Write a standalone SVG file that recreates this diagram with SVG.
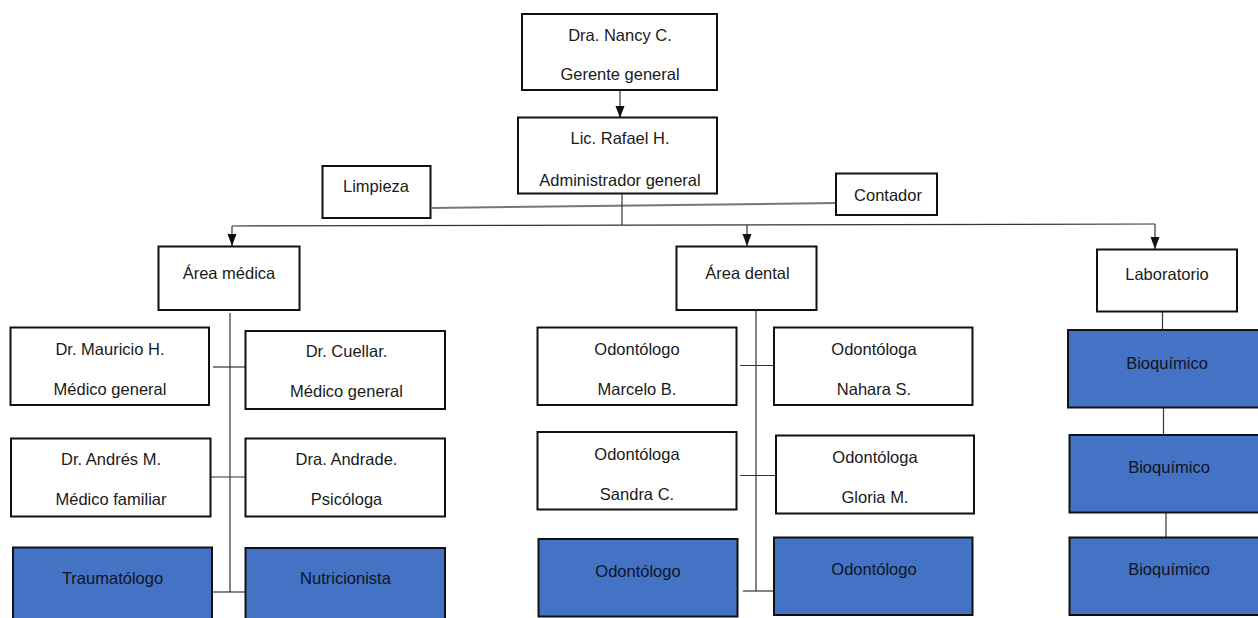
<svg xmlns="http://www.w3.org/2000/svg" width="1258" height="618" viewBox="0 0 1258 618">
<style>
.b{fill:#fff;stroke:#111;stroke-width:2}
.f{fill:#4472C4;stroke:#111;stroke-width:2}
text{font-family:"Liberation Sans",Arial,sans-serif;font-size:16.5px;fill:#1a1a1a;text-anchor:middle}
.k text{fill:#0f1522}
.c{stroke:#333;stroke-width:1.2;fill:none}
.g{stroke:#777;stroke-width:2;fill:none}
</style>
<defs>
<marker id="ad" markerWidth="10" markerHeight="12" refX="5" refY="12" markerUnits="userSpaceOnUse" viewBox="0 0 10 12">
<path d="M0.5,0 L9.5,0 L5,12 Z" fill="#111"/>
</marker>
</defs>
<rect width="1258" height="618" fill="#fff"/>
<g id="connectors">
<line class="c" x1="620" y1="91" x2="620" y2="118" marker-end="url(#ad)"/>
<line class="g" x1="432" y1="208" x2="836" y2="203"/>
<line class="c" x1="622" y1="194" x2="622" y2="225"/>
<line class="c" x1="232" y1="226" x2="1155" y2="224"/>
<line class="c" x1="232" y1="226" x2="232" y2="246" marker-end="url(#ad)"/>
<line class="c" x1="1155" y1="224" x2="1155" y2="249" marker-end="url(#ad)"/>
<line class="c" x1="747" y1="225" x2="747" y2="246" marker-end="url(#ad)"/>
<line class="c" x1="230" y1="313" x2="230" y2="592"/>
<line class="c" x1="213" y1="367" x2="245" y2="367"/>
<line class="c" x1="211" y1="477" x2="245" y2="477"/>
<line class="c" x1="213" y1="592" x2="245" y2="592"/>
<line class="c" x1="756" y1="310" x2="756" y2="591"/>
<line class="c" x1="740" y1="365.5" x2="774" y2="365.5"/>
<line class="c" x1="740" y1="475.5" x2="776" y2="475.5"/>
<line class="c" x1="743" y1="591" x2="774" y2="591"/>
<line class="c" x1="1162.5" y1="312" x2="1162.5" y2="330"/>
<line class="c" x1="1163.5" y1="407" x2="1163.5" y2="435"/>
<line class="c" x1="1166" y1="513" x2="1166" y2="540"/>
</g>
<g id="n-gerente"><rect class="b" x="522" y="14" width="195" height="76"/><text x="620" y="41">Dra. Nancy C.</text><text x="620" y="80">Gerente general</text></g>
<g id="n-admin"><rect class="b" x="518" y="117.5" width="199" height="76"/><text x="620" y="144">Lic. Rafael H.</text><text x="620" y="186">Administrador general</text></g>
<g id="n-limpieza"><rect class="b" x="322.5" y="166" width="108" height="52"/><text x="376" y="192">Limpieza</text></g>
<g id="n-contador"><rect class="b" x="836" y="173.5" width="101" height="41.5"/><text x="888" y="201">Contador</text></g>
<g id="n-medica"><rect class="b" x="158.5" y="246.5" width="141" height="63.5"/><text x="229" y="278.5">Área médica</text></g>
<g id="n-mauricio"><rect class="b" x="10.5" y="327.5" width="198.5" height="77.5"/><text x="110" y="355">Dr. Mauricio H.</text><text x="110" y="395">Médico general</text></g>
<g id="n-cuellar"><rect class="b" x="245.5" y="331" width="199.5" height="78"/><text x="346.5" y="357">Dr. Cuellar.</text><text x="346.5" y="397">Médico general</text></g>
<g id="n-andres"><rect class="b" x="11" y="438.5" width="199.5" height="78"/><text x="111" y="465">Dr. Andrés M.</text><text x="111" y="505">Médico familiar</text></g>
<g id="n-andrade"><rect class="b" x="245.5" y="438.5" width="199.5" height="78"/><text x="346.5" y="465">Dra. Andrade.</text><text x="346.5" y="505">Psicóloga</text></g>
<g id="n-trauma" class="k"><rect class="f" x="13" y="547.5" width="199" height="80"/><text x="112.5" y="584">Traumatólogo</text></g>
<g id="n-nutri" class="k"><rect class="f" x="245.5" y="548" width="199.5" height="80"/><text x="345.5" y="584">Nutricionista</text></g>
<g id="n-dental"><rect class="b" x="676.5" y="246.5" width="140" height="63.5"/><text x="747.5" y="278.5">Área dental</text></g>
<g id="n-marcelo"><rect class="b" x="537.5" y="327.5" width="199" height="77.5"/><text x="637" y="355">Odontólogo</text><text x="637" y="395">Marcelo B.</text></g>
<g id="n-nahara"><rect class="b" x="774" y="327.5" width="198.5" height="77.5"/><text x="874" y="355">Odontóloga</text><text x="874" y="395">Nahara S.</text></g>
<g id="n-sandra"><rect class="b" x="537.5" y="432" width="199" height="77.5"/><text x="637" y="459.5">Odontóloga</text><text x="637" y="499.5">Sandra C.</text></g>
<g id="n-gloria"><rect class="b" x="776" y="435.5" width="198" height="78"/><text x="875" y="463">Odontóloga</text><text x="875" y="503">Gloria M.</text></g>
<g id="n-odon1" class="k"><rect class="f" x="538.5" y="539" width="199" height="77.5"/><text x="638" y="577">Odontólogo</text></g>
<g id="n-odon2" class="k"><rect class="f" x="774" y="537.5" width="198.5" height="77.5"/><text x="874" y="574.5">Odontólogo</text></g>
<g id="n-lab"><rect class="b" x="1097" y="249.5" width="140" height="62"/><text x="1167" y="279.5">Laboratorio</text></g>
<g id="n-bio1" class="k"><rect class="f" x="1068" y="330" width="195" height="77.5"/><text x="1167" y="368.5">Bioquímico</text></g>
<g id="n-bio2" class="k"><rect class="f" x="1069.5" y="435" width="195" height="77.5"/><text x="1169" y="473">Bioquímico</text></g>
<g id="n-bio3" class="k"><rect class="f" x="1069.5" y="537.5" width="195" height="77.5"/><text x="1169" y="574.5">Bioquímico</text></g>
</svg>
